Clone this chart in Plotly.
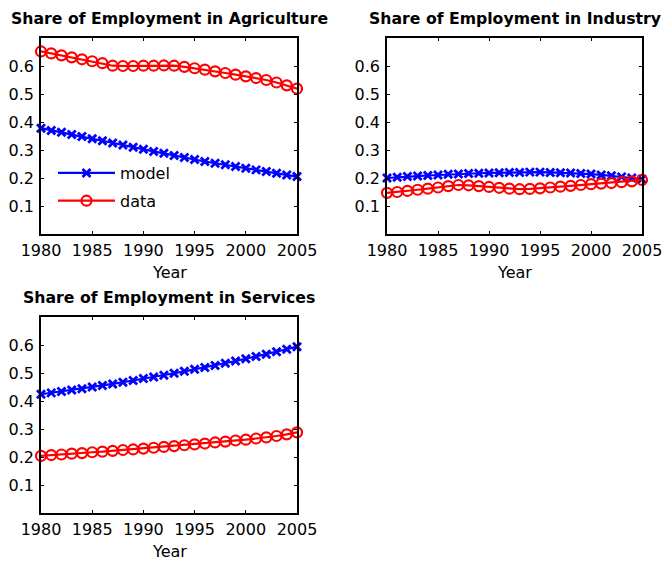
import plotly.graph_objects as go

# Years shown on every panel
years = list(range(1980, 2006))

# Share of employment in agriculture
agri_model = [0.378, 0.370, 0.363, 0.355, 0.348, 0.340, 0.333, 0.325, 0.318, 0.310,
              0.303, 0.295, 0.288, 0.280, 0.273, 0.266, 0.259, 0.253, 0.247, 0.241,
              0.235, 0.229, 0.223, 0.217, 0.211, 0.205]
agri_data = [0.652, 0.645, 0.638, 0.631, 0.624, 0.617, 0.610, 0.601, 0.600, 0.600,
             0.601, 0.601, 0.602, 0.601, 0.597, 0.592, 0.587, 0.581, 0.575, 0.569,
             0.563, 0.557, 0.550, 0.541, 0.531, 0.519]

# Share of employment in industry
ind_model = [0.200, 0.203, 0.205, 0.207, 0.209, 0.211, 0.213, 0.214, 0.216, 0.217,
             0.218, 0.219, 0.220, 0.220, 0.221, 0.221, 0.220, 0.219, 0.218, 0.216,
             0.214, 0.211, 0.208, 0.204, 0.200, 0.196]
ind_data = [0.147, 0.150, 0.154, 0.158, 0.162, 0.166, 0.171, 0.175, 0.174, 0.171,
            0.168, 0.165, 0.162, 0.160, 0.161, 0.163, 0.166, 0.169, 0.172, 0.175,
            0.178, 0.180, 0.182, 0.185, 0.188, 0.193]

# Share of employment in services
serv_model = [0.424, 0.429, 0.434, 0.439, 0.444, 0.450, 0.455, 0.461, 0.467, 0.473,
              0.480, 0.486, 0.492, 0.499, 0.506, 0.513, 0.520, 0.527, 0.535, 0.543,
              0.551, 0.559, 0.567, 0.576, 0.585, 0.594]
serv_data = [0.204, 0.207, 0.209, 0.212, 0.214, 0.217, 0.219, 0.222, 0.225, 0.227,
             0.230, 0.233, 0.236, 0.239, 0.242, 0.245, 0.248, 0.252, 0.255, 0.259,
             0.262, 0.266, 0.270, 0.275, 0.281, 0.288]

panel_titles = ["Share of Employment in Agriculture",
                "Share of Employment in Industry",
                "Share of Employment in Services"]
x_ticks = [1980, 1985, 1990, 1995, 2000, 2005]
y_ticks = [0.1, 0.2, 0.3, 0.4, 0.5, 0.6]
series_names = ["model", "data"]

W, H = 664, 563
FONT = "DejaVu Sans"
BLUE = "#0000ff"
RED = "#ff0000"

# panel boxes in pixels: (left, right, top, bottom)
boxes = [(41, 297, 38, 234), (387, 642, 38, 234), (41, 297, 317, 513)]

fig = go.Figure()

panels = [(agri_model, agri_data), (ind_model, ind_data), (serv_model, serv_data)]
for i, (model, data) in enumerate(panels):
    ax = "" if i == 0 else str(i + 1)
    fig.add_trace(go.Scatter(
        x=years, y=model, name=series_names[0], mode="lines+markers",
        line=dict(color=BLUE, width=2.2),
        marker=dict(symbol="x-thin", size=8, line=dict(color=BLUE, width=2.8)),
        xaxis="x" + ax, yaxis="y" + ax, cliponaxis=False,
        showlegend=(i == 0), legendgroup="m"))
    fig.add_trace(go.Scatter(
        x=years, y=data, name=series_names[1], mode="lines+markers",
        line=dict(color=RED, width=2.2),
        marker=dict(symbol="circle-open", size=10, color=RED,
                    line=dict(color=RED, width=2.2)),
        xaxis="x" + ax, yaxis="y" + ax, cliponaxis=False,
        showlegend=(i == 0), legendgroup="d"))

axis_common = dict(showline=True, linecolor="black", linewidth=1.5, mirror="allticks",
                   ticks="inside", ticklen=3, tickwidth=1, tickcolor="black",
                   showgrid=False, zeroline=False,
                   tickfont=dict(family=FONT, size=16, color="black"))

layout = dict(width=W, height=H,
              margin=dict(l=0, r=0, t=0, b=0, autoexpand=False),
              paper_bgcolor="white", plot_bgcolor="white",
              font=dict(family=FONT, size=16, color="black"))

annotations = []
for i, (l, r, t, b) in enumerate(boxes):
    ax = "" if i == 0 else str(i + 1)
    layout["xaxis" + ax] = dict(axis_common, domain=[l / W, r / W], range=[1980, 2005],
                                tickvals=x_ticks, anchor="y" + ax, ticklabelstandoff=1)
    layout["yaxis" + ax] = dict(axis_common, domain=[1 - b / H, 1 - t / H], range=[0, 0.7],
                                tickvals=y_ticks, tickformat=".1f", anchor="x" + ax,
                                ticklabelstandoff=2)
    cx = (l + r) / 2 / W
    annotations.append(dict(text="<b>%s</b>" % panel_titles[i], x=cx, y=1 - (t - 20) / H,
                            xref="paper", yref="paper", xanchor="center", yanchor="middle",
                            showarrow=False, font=dict(family=FONT, size=15.7, color="black")))
    annotations.append(dict(text="Year", x=cx, y=1 - (b + 38.5) / H,
                            xref="paper", yref="paper", xanchor="center", yanchor="middle",
                            showarrow=False, font=dict(family=FONT, size=16, color="black")))

layout["annotations"] = annotations
layout["legend"] = dict(x=53 / W, y=1 - 156 / H, xanchor="left", yanchor="top",
                        bgcolor="rgba(0,0,0,0)", borderwidth=0, itemwidth=57,
                        traceorder="grouped", tracegroupgap=4,
                        font=dict(family=FONT, size=16, color="black"))

fig.update_layout(**layout)
fig.write_html("out.html")
